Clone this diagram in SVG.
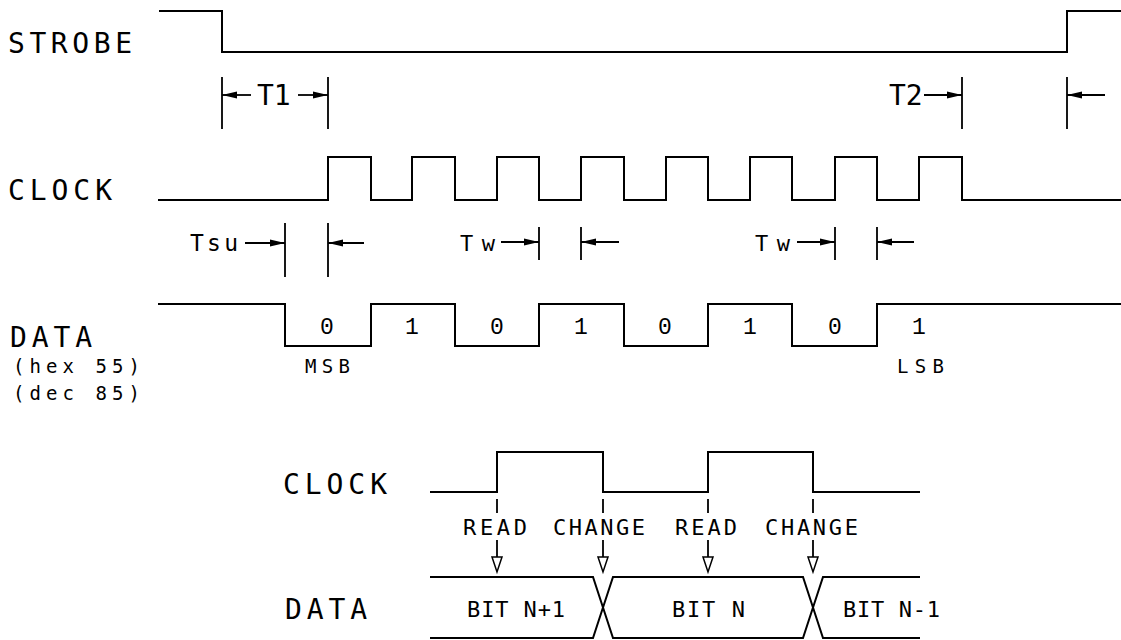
<svg xmlns="http://www.w3.org/2000/svg" width="1121" height="640" viewBox="0 0 1121 640">
<style>
.sig{fill:none;stroke:#000;stroke-width:2;stroke-linejoin:miter;stroke-linecap:square}
.dim{fill:none;stroke:#000;stroke-width:1.8}
.arr{fill:none;stroke:#000;stroke-width:1.8;marker-end:url(#ah)}
.tri{fill:#fff;stroke:#000;stroke-width:1.5}
text{font-family:"DejaVu Sans Mono","Liberation Mono",monospace;fill:#000}
.big{font-size:28px}
.mid{font-size:22px}
.sm{font-size:19px}
.dig{font-family:"Liberation Mono","DejaVu Sans Mono",monospace;font-size:23px;text-anchor:middle}
</style>
<defs>
<marker id="ah" markerUnits="userSpaceOnUse" markerWidth="18" markerHeight="10" refX="15" refY="4" orient="auto" viewBox="0 0 18 8">
<path d="M0,0.6 L15,4 L0,7.4 Z" fill="#000"/>
</marker>
</defs>
<g id="labels">
<text class="big" x="8" y="53" textLength="124" lengthAdjust="spacing">STROBE</text>
<text class="big" x="8" y="200" textLength="104" lengthAdjust="spacing">CLOCK</text>
<text class="big" x="10" y="347" textLength="82" lengthAdjust="spacing">DATA</text>
<text class="sm" x="13" y="373" textLength="127" lengthAdjust="spacing">(hex 55)</text>
<text class="sm" x="13" y="400" textLength="127" lengthAdjust="spacing">(dec 85)</text>
</g>
<g id="connectors">
<path id="strobe" class="sig" d="M160,11 H222 V52 H1067 V11 H1121"/>
<path id="clock" class="sig" d="M159,200 H328 V157 H371 V200 H412 V157 H455 V200 H497 V157 H539 V200 H581 V157 H624 V200 H666 V157 H708 V200 H750 V157 H792 V200 H835 V157 H877 V200 H919 V157 H962 V200 H1121"/>
<path id="data" class="sig" d="M159,304 H285 V346 H371 V304 H455 V346 H539 V304 H624 V346 H708 V304 H792 V346 H877 V304 H1121"/>
</g>
<g id="dim-t1">
<path class="dim" d="M222,77 V129 M328,77 V129"/>
<line class="arr" x1="251" y1="95" x2="222" y2="95"/>
<line class="arr" x1="298" y1="95" x2="328" y2="95"/>
<text class="big" x="257" y="105">T1</text>
</g>
<g id="dim-t2">
<path class="dim" d="M962,77 V129 M1067,77 V129"/>
<line class="arr" x1="924" y1="95" x2="962" y2="95"/>
<line class="arr" x1="1105" y1="95" x2="1067" y2="95"/>
<text class="big" x="889" y="105">T2</text>
</g>
<g id="dim-tsu">
<path class="dim" d="M285,223 V277 M328,223 V277"/>
<line class="arr" x1="245" y1="243" x2="285" y2="243"/>
<line class="arr" x1="364" y1="243" x2="328" y2="243"/>
<text class="mid" x="190" y="251" textLength="48" lengthAdjust="spacing" style="font-size:23px">Tsu</text>
</g>
<g id="dim-tw1">
<path class="dim" d="M539,227 V260 M581,227 V260"/>
<line class="arr" x1="501" y1="242" x2="539" y2="242"/>
<line class="arr" x1="619" y1="242" x2="581" y2="242"/>
<text class="mid" x="460" y="251" textLength="35" lengthAdjust="spacing">Tw</text>
</g>
<g id="dim-tw2">
<path class="dim" d="M835,227 V260 M877,227 V260"/>
<line class="arr" x1="797" y1="242" x2="835" y2="242"/>
<line class="arr" x1="914" y1="242" x2="877" y2="242"/>
<text class="mid" x="755" y="251" textLength="35" lengthAdjust="spacing">Tw</text>
</g>
<g id="bits">
<text class="dig" x="327" y="334">0</text>
<text class="dig" x="412" y="334">1</text>
<text class="dig" x="497" y="334">0</text>
<text class="dig" x="581" y="334">1</text>
<text class="dig" x="665" y="334">0</text>
<text class="dig" x="750" y="334">1</text>
<text class="dig" x="835" y="334">0</text>
<text class="dig" x="919" y="334">1</text>
<text class="sm" x="305" y="373" textLength="45" lengthAdjust="spacing">MSB</text>
<text class="sm" x="897" y="373" textLength="47" lengthAdjust="spacing">LSB</text>
</g>
<g id="detail-labels">
<text class="big" x="283" y="494" textLength="104" lengthAdjust="spacing">CLOCK</text>
<text class="big" x="285" y="619" textLength="82" lengthAdjust="spacing">DATA</text>
</g>
<g id="detail-connectors">
<path id="clock2" class="sig" d="M431,492 H497 V452 H603 V492 H708 V452 H813 V492 H919"/>
<path id="data2-top" class="sig" d="M431,577 H593 L613,638 H803 L823,577 H919"/>
<path id="data2-bot" class="sig" d="M431,638 H593 L613,577 H803 L823,638 H919"/>
</g>
<g id="read1">
<path class="dim" d="M497,499 V513 M497,540 V557"/>
<path class="tri" d="M492,557 H502 L497,572 Z"/>
<text class="mid" x="463" y="535" textLength="64" lengthAdjust="spacing">READ</text>
</g>
<g id="change1">
<path class="dim" d="M603,499 V513 M603,540 V557"/>
<path class="tri" d="M598,557 H608 L603,572 Z"/>
<text class="mid" x="553" y="535" textLength="92" lengthAdjust="spacing">CHANGE</text>
</g>
<g id="read2">
<path class="dim" d="M708,499 V513 M708,540 V557"/>
<path class="tri" d="M703,557 H713 L708,572 Z"/>
<text class="mid" x="675" y="535" textLength="62" lengthAdjust="spacing">READ</text>
</g>
<g id="change2">
<path class="dim" d="M813,499 V513 M813,540 V557"/>
<path class="tri" d="M808,557 H818 L813,572 Z"/>
<text class="mid" x="765" y="535" textLength="93" lengthAdjust="spacing">CHANGE</text>
</g>
<g id="bit-labels">
<text class="mid" x="467" y="617" textLength="98" lengthAdjust="spacing">BIT N+1</text>
<text class="mid" x="672" y="617" textLength="73" lengthAdjust="spacing">BIT N</text>
<text class="mid" x="843" y="617" textLength="97" lengthAdjust="spacing">BIT N-1</text>
</g>
</svg>
